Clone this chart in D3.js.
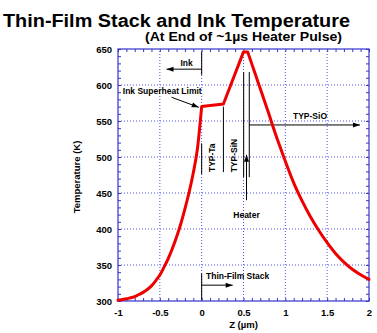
<!DOCTYPE html>
<html><head><meta charset="utf-8">
<script src="https://cdnjs.cloudflare.com/ajax/libs/d3/7.8.5/d3.min.js"></script>
<style>body{margin:0;background:#fff}svg{display:block}text{font-family:"Liberation Sans",Arial,sans-serif;font-weight:bold}</style>
</head><body>
<script>
// Data
const zLeft = [-1,-0.95,-0.9,-0.85,-0.8,-0.75,-0.7,-0.65,-0.6,-0.55,-0.5,-0.45,-0.4,-0.35,-0.3,-0.25,-0.2,-0.15,-0.1,-0.05,0];
const tLeft = [301,302,303,304.5,306,309,312,316,321,328,336,347,359,373,389,407,428,451,478,512,570];
const zMid = [0,0.26,0.5,0.55];
const tMid = [570,573.5,646,646];
const zRight = [0.55,0.6,0.65,0.7,0.75,0.8,0.85,0.9,0.95,1.0,1.1,1.2,1.3,1.4,1.5,1.6,1.7,1.8,1.9,2.0];
const tRight = [646,629,612,595,578,561,543,526,510,494,464,439,417,398,381,366,354,344,336.5,330];
const xTicks = [-1,-0.5,0,0.5,1,1.5,2];
const xTickLabels = ["-1","-0.5","0","0.5","1","1.5","2"];
const yTicks = [300,350,400,450,500,550,600,650];
const titleText = "Thin-Film Stack and Ink Temperature";
const subtitleText = "(At End of ~1µs Heater Pulse)";
const xLabel = "Z (µm)";
const yLabel = "Temperature (K)";

const W = 377, H = 333;
const svg = d3.select("body").append("svg").attr("width", W).attr("height", H);
const x = d3.scaleLinear().domain([-1, 2]).range([118, 369]);
const y = d3.scaleLinear().domain([300, 650]).range([301, 49]);
const blue = "#3434cc";

// title
svg.append("text").attr("x", 3).attr("y", 27).attr("font-size", 17.5)
  .attr("textLength", 347).attr("lengthAdjust", "spacingAndGlyphs").text(titleText);
svg.append("text").attr("x", 145).attr("y", 40.5).attr("font-size", 12)
  .attr("textLength", 197).attr("lengthAdjust", "spacingAndGlyphs").text(subtitleText);

// grid
const grid = svg.append("g").attr("stroke", "#5050e8").attr("stroke-width", 1).attr("stroke-dasharray", "1,2");
xTicks.slice(1, -1).forEach(v => grid.append("line").attr("x1", x(v)).attr("x2", x(v)).attr("y1", y(300)).attr("y2", y(650)));
yTicks.slice(1, -1).forEach(v => grid.append("line").attr("y1", y(v)).attr("y2", y(v)).attr("x1", x(-1)).attr("x2", x(2)));

// axes with inward ticks
const minorX = d3.range(-1, 2.0001, 0.1);
const minorY = d3.range(300, 650.1, 10);
function axisG(axis, tr) { const g = svg.append("g").attr("transform", tr).call(axis); g.select(".domain").remove(); g.selectAll("line").attr("stroke", blue); return g; }
axisG(d3.axisBottom(x).tickValues(minorX).tickSize(-3).tickFormat(""), `translate(0,${y(300)})`);
axisG(d3.axisTop(x).tickValues(minorX).tickSize(-3).tickFormat(""), `translate(0,${y(650)})`);
axisG(d3.axisLeft(y).tickValues(minorY).tickSize(-3).tickFormat(""), `translate(${x(-1)},0)`);
axisG(d3.axisRight(y).tickValues(minorY).tickSize(-3).tickFormat(""), `translate(${x(2)},0)`);

const xa = svg.append("g").attr("transform", `translate(0,${y(300)})`)
  .call(d3.axisBottom(x).tickValues(xTicks).tickSize(0).tickPadding(8).tickFormat((d, i) => xTickLabels[i]));
xa.select(".domain").remove();
xa.selectAll("text").attr("font-size", 9.5).attr("fill", "#000").attr("font-family", "Liberation Sans, Arial").attr("font-weight", "bold");
const ya = svg.append("g").attr("transform", `translate(${x(-1)},0)`)
  .call(d3.axisLeft(y).tickValues(yTicks).tickSize(0).tickPadding(6));
ya.select(".domain").remove();
ya.selectAll("text").attr("font-size", 9.5).attr("fill", "#000").attr("font-family", "Liberation Sans, Arial").attr("font-weight", "bold");

svg.append("rect").attr("x", x(-1)).attr("y", y(650)).attr("width", x(2) - x(-1)).attr("height", y(300) - y(650))
  .attr("fill", "none").attr("stroke", blue).attr("stroke-width", 1.2);

svg.append("text").attr("x", (x(-1) + x(2)) / 2).attr("y", 327.5).attr("text-anchor", "middle").attr("font-size", 9.5).text(xLabel);
svg.append("text").attr("transform", `translate(80,${(y(300) + y(650)) / 2 + 2}) rotate(-90)`).attr("text-anchor", "middle").attr("font-size", 9.5).text(yLabel);

// annotations
const ann = svg.append("g").attr("stroke", "#000").attr("stroke-width", 1);
function vline(z, t1, t2) { ann.append("line").attr("x1", x(z)).attr("x2", x(z)).attr("y1", y(t1)).attr("y2", y(t2)); }
function arrowH(z1, z2, t) {
  ann.append("line").attr("x1", x(z1)).attr("x2", x(z2)).attr("y1", y(t)).attr("y2", y(t));
  const dir = Math.sign(x(z2) - x(z1)), tx = x(z2), ty = y(t);
  svg.append("path").attr("d", `M${tx},${ty}L${tx - dir * 7},${ty - 2.5}L${tx - dir * 7},${ty + 2.5}Z`).attr("fill", "#000");
}
function arrowLine(z1, t1, z2, t2) {
  const x1 = x(z1), y1 = y(t1), x2 = x(z2), y2 = y(t2);
  ann.append("line").attr("x1", x1).attr("x2", x2).attr("y1", y1).attr("y2", y2);
  const a = Math.atan2(y2 - y1, x2 - x1), L = 7, w = 2.5;
  const bx = x2 - L * Math.cos(a), by = y2 - L * Math.sin(a);
  svg.append("path").attr("d", `M${x2},${y2}L${bx - w * Math.sin(a)},${by + w * Math.cos(a)}L${bx + w * Math.sin(a)},${by - w * Math.cos(a)}Z`).attr("fill", "#000");
}
function label(z, t, s, anchor, rot) {
  const tx = svg.append("text").attr("font-size", 8.5).attr("text-anchor", anchor || "start").attr("dominant-baseline", "central").text(s);
  if (rot) tx.attr("transform", `translate(${x(z)},${y(t)}) rotate(-90)`);
  else tx.attr("x", x(z)).attr("y", y(t));
}

vline(0, 646, 614);
arrowH(0, -0.42, 622);
label(-0.18, 630, "Ink", "middle");
label(0, 592, "Ink Superheat Limit", "end");
arrowLine(-0.36, 583, -0.035, 569);
vline(0, 519, 476);
vline(0.26, 570, 479);
label(0.127, 499, "TYP-Ta", "middle", true);
label(0.39, 502, "TYP-SiN", "middle", true);
vline(0.502, 618, 472);
vline(0.569, 618, 472);
arrowLine(0.536, 440, 0.536, 503);
label(0.536, 419, "Heater", "middle");
arrowH(0.569, 1.892, 544.5);
label(1.295, 557, "TYP-SiO", "middle");
vline(0, 338.5, 301.5);
arrowH(0, 0.371, 322);
label(0.052, 335, "Thin-Film Stack", "start");

// curve: smooth left and right branches, straight middle segments
const toPts = (zs, ts) => zs.map((z, i) => [z, ts[i]]);
const smooth = d3.line().x(d => x(d[0])).y(d => y(d[1])).curve(d3.curveMonotoneX);
const straight = d3.line().x(d => x(d[0])).y(d => y(d[1])).curve(d3.curveLinear);
const dPath = smooth(toPts(zLeft, tLeft)) + straight(toPts(zMid, tMid)).replace(/^M/, "L") + smooth(toPts(zRight, tRight)).replace(/^M/, "L");
svg.append("path").attr("fill", "none").attr("stroke", "#ee0000").attr("stroke-width", 3)
  .attr("stroke-linejoin", "round").attr("stroke-linecap", "round").attr("d", dPath);
</script>
</body></html>
